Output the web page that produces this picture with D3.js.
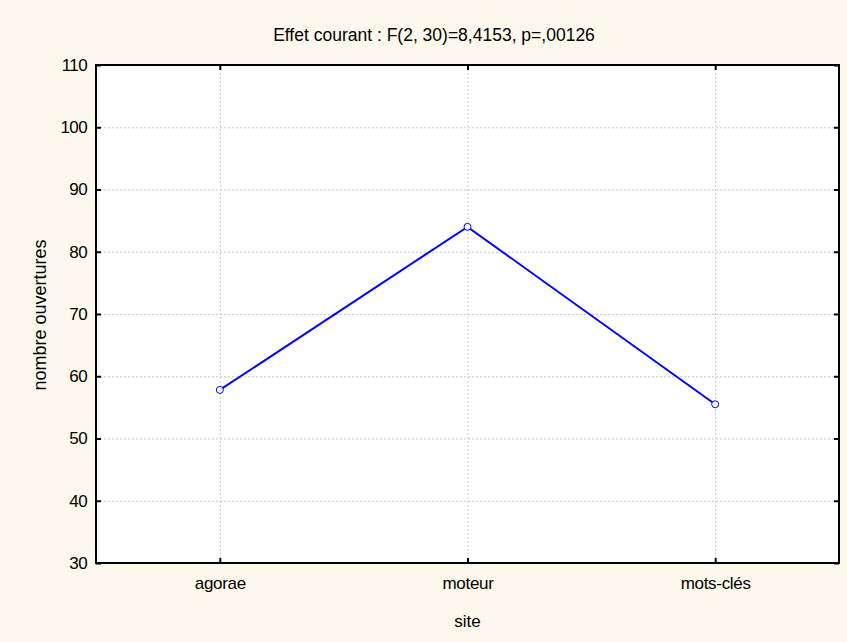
<!DOCTYPE html>
<html>
<head>
<meta charset="utf-8">
<script src="https://cdn.jsdelivr.net/npm/d3@7"></script>
<style>
  body { margin: 0; background: #fdf8ec; }
  svg text { font-family: "Liberation Sans", Arial, sans-serif; fill: #000; }
</style>
</head>
<body>
<div class="d3"></div>
<script>
var sites = ["agorae", "moteur", "mots-clés"];
var values = [57.8, 84.0, 55.5];
var yTicks = [30, 40, 50, 60, 70, 80, 90, 100, 110];

var w = 847, h = 642;
var plotL = 96, plotR = 839, plotT = 65, plotB = 563;
var fs = "17px";

var svg = d3.select(".d3")
	.append("svg")
	.attr("width", w)
	.attr("height", h);

svg.append("rect")
	.attr("width", w).attr("height", h)
	.attr("fill", "#fdf8ec");

var xScale = d3.scalePoint()
	.domain(sites)
	.range([plotL, plotR])
	.padding(0.5);
var yScale = d3.scaleLinear()
	.domain([30, 110])
	.range([plotB, plotT]);

// plot area
svg.append("rect")
	.attr("x", plotL).attr("y", plotT)
	.attr("width", plotR - plotL).attr("height", plotB - plotT)
	.attr("fill", "#fff");

// grid
var grid = svg.append("g").attr("stroke", "#c8c8c8").attr("stroke-dasharray", "2,2");
grid.selectAll(".gy")
	.data(yTicks.slice(1, -1))
	.enter().append("line")
	.attr("x1", plotL).attr("x2", plotR)
	.attr("y1", d => yScale(d) + 0.5).attr("y2", d => yScale(d) + 0.5);
grid.selectAll(".gx")
	.data(sites)
	.enter().append("line")
	.attr("y1", plotT).attr("y2", plotB)
	.attr("x1", d => xScale(d) + 0.5).attr("x2", d => xScale(d) + 0.5);

// axes
var yAxis = d3.axisLeft(yScale).tickValues(yTicks).tickSizeInner(-5).tickSizeOuter(0).tickPadding(9);
svg.append("g")
	.attr("transform", "translate(" + plotL + ",0)")
	.call(yAxis)
	.call(g => g.select(".domain").remove())
	.call(g => g.selectAll("line").attr("stroke", "#000").attr("stroke-width", 2))
	.call(g => g.selectAll("text").attr("font-size", fs).attr("letter-spacing", "-0.6px")
		.attr("font-family", "Liberation Sans, Arial, sans-serif"));

var yAxisR = d3.axisRight(yScale).tickValues(yTicks).tickSizeInner(-5).tickSizeOuter(0).tickFormat("");
svg.append("g")
	.attr("transform", "translate(" + plotR + ",0)")
	.call(yAxisR)
	.call(g => g.select(".domain").remove())
	.call(g => g.selectAll("line").attr("stroke", "#000").attr("stroke-width", 2));

var xAxis = d3.axisBottom(xScale).tickSizeInner(-5).tickSizeOuter(0).tickPadding(14);
svg.append("g")
	.attr("transform", "translate(0," + plotB + ")")
	.call(xAxis)
	.call(g => g.select(".domain").remove())
	.call(g => g.selectAll("line").attr("stroke", "#000").attr("stroke-width", 2))
	.call(g => g.selectAll("text").attr("font-size", fs).attr("letter-spacing", "-0.3px")
		.attr("font-family", "Liberation Sans, Arial, sans-serif"));

var xAxisT = d3.axisTop(xScale).tickSizeInner(-5).tickSizeOuter(0).tickFormat("");
svg.append("g")
	.attr("transform", "translate(0," + plotT + ")")
	.call(xAxisT)
	.call(g => g.select(".domain").remove())
	.call(g => g.selectAll("line").attr("stroke", "#000").attr("stroke-width", 2));

// frame
svg.append("rect")
	.attr("x", plotL).attr("y", plotT)
	.attr("width", plotR - plotL).attr("height", plotB - plotT)
	.attr("fill", "none")
	.attr("stroke", "#000")
	.attr("stroke-width", 2);

// line
var line = d3.line()
	.x((d, i) => xScale(sites[i]))
	.y(d => yScale(d));
svg.append("path")
	.datum(values)
	.attr("d", line)
	.attr("fill", "none")
	.attr("stroke", "#0000ff")
	.attr("stroke-width", 2);

svg.selectAll(".pt")
	.data(values)
	.enter().append("circle")
	.attr("cx", (d, i) => xScale(sites[i]))
	.attr("cy", d => yScale(d))
	.attr("r", 3.5)
	.attr("fill", "#fff")
	.attr("stroke", "#0000ff")
	.attr("stroke-width", 1);

// title and labels
svg.append("text")
	.attr("x", 434).attr("y", 41)
	.attr("text-anchor", "middle")
	.attr("font-size", "17.5px")
	.text("Effet courant : F(2, 30)=8,4153, p=,00126");

svg.append("text")
	.attr("x", (plotL + plotR) / 2).attr("y", 627)
	.attr("text-anchor", "middle")
	.attr("font-size", fs)
	.text("site");

svg.append("text")
	.attr("transform", "translate(46,315) rotate(-90)")
	.attr("text-anchor", "middle")
	.attr("font-size", "18px")
	.text("nombre ouvertures");
</script>
</body>
</html>
